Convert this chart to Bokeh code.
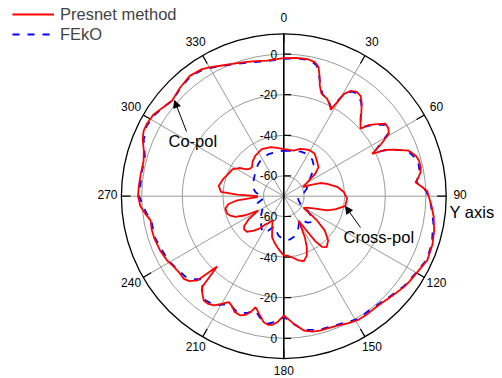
import numpy as np
from bokeh.plotting import figure
from bokeh.models import Range1d, Arrow, NormalHead, Legend, LegendItem
from bokeh.core.properties import value
from bokeh.embed import file_html
from bokeh.resources import INLINE

# ---------------- data (angle in degrees clockwise from top, level in dB) -------------
copol_angle = [0, 5, 10, 13, 15, 16.5, 18, 20, 22, 24, 26.5, 28.5, 29.5, 30.5, 32.5, 35, 37.5, 40,
               43, 45.5, 48.7, 50, 51.5, 54.5, 57, 59.3, 62, 64.4, 65.5, 67, 70, 73, 75, 78, 80, 82,
               84, 86, 88, 90, 94, 98, 103, 108, 114, 120, 124, 127, 133, 137, 141, 145, 149, 153,
               158, 165, 168, 171.5, 175.5, 178, 180, 183, 185, 187, 189, 192, 194.3, 196, 198, 200,
               203, 205, 207.4, 210, 212.6, 215, 217.5, 220, 222, 223.5, 225.8, 228, 230.4, 234, 238,
               241, 246, 252, 256, 259.7, 262.7, 266, 270, 274, 279, 284, 288, 292, 295, 298, 302,
               306, 310.6, 313, 316.5, 322, 327, 330, 334, 338, 343, 348, 353, 357, 360]
copol_presnet = [-2.0, -1.6, -1.5, -2.2, -4.0, -8.0, -12.6, -16.0, -16.8, -17.5, -19.5, -21.5, -17.0,
                 -11.5, -8.5, -7.3, -7.8, -10.3, -14.0, -17.0, -19.7, -15.5, -13.1, -8.5, -8.6, -9.8,
                 -16.0, -21.7, -15.0, -11.2, -4.5, -2.0, -1.2, -1.0, -1.6, -3.0, -4.8, -2.0, 0.7, 1.4,
                 3.0, 4.6, 6.0, 7.0, 7.4, 5.6, 4.8, 4.2, 2.4, 1.5, 1.0, 1.2, 1.1, 0.2, -1.1, -1.4, -1.8,
                 -3.1, -6.9, -9.5, -11.2, -7.8, -6.4, -6.2, -7.1, -11.0, -13.6, -10.5, -8.5, -7.5, -8.0,
                 -10.0, -11.2, -8.8, -6.1, -5.2, -5.2, -7.5, -10.0, -22.3, -10.5, -7.5, -6.1, -6.2,
                 -5.5, -4.4, -3.5, -2.9, -2.9, -3.3, -1.3, 0.8, 1.8, 1.6, 1.3, 1.2, 2.5, 5.0, 6.2, 6.3,
                 5.8, 4.0, 2.4, 3.0, 4.0, 5.2, 4.5, 3.3, 1.5, 0.2, -1.1, -2.0, -2.7, -2.4, -2.0]

copol_feko_angle = [0, 6, 11, 14, 16.5, 18.5, 21, 24, 28, 30.5, 33, 36, 40, 45, 48.5, 51.5, 55, 59,
                    64, 66.5, 70, 75, 80, 84, 88, 93, 100, 108, 114, 120, 127, 133, 141, 149, 158,
                    165, 171.5, 176, 180, 183, 187, 190, 194, 197, 201, 207, 212, 217, 221, 224, 227,
                    230, 235, 241, 252, 260, 263, 270, 280, 286, 292, 297, 302, 308, 311, 316, 322,
                    328, 334, 343, 353, 360]
copol_feko = [-2.3, -1.8, -1.8, -3.5, -8.5, -13.0, -16.5, -17.0, -20.5, -12.0, -8.6, -7.6, -10.5,
              -16.5, -18.5, -13.5, -8.8, -10.0, -20.5, -12.0, -5.0, -1.6, -2.0, -4.3, 0.3, 2.5, 4.8,
              6.6, 7.0, 5.3, 3.9, 2.0, 0.4, 0.6, -1.5, -1.9, -3.4, -7.2, -10.5, -8.2, -6.8, -7.8,
              -12.0, -10.0, -8.0, -10.5, -6.5, -5.8, -8.5, -13.0, -10.0, -7.5, -6.5, -4.8, -3.3,
              -3.6, -1.8, 1.3, 0.9, 1.2, 4.4, 5.9, 5.3, 3.2, 2.2, 3.6, 4.8, 4.0, 1.2, -1.4, -2.9, -2.3]

cross_angle = [0, 6, 12, 19, 25, 30, 36, 43, 50, 54.5, 57, 61, 65, 67, 70, 74, 80, 86, 92, 99, 104,
               108, 112.5, 117, 121, 124, 126, 130, 135, 140, 143, 145, 147, 149, 151, 153, 156, 159,
               163, 167, 172, 176, 180, 184, 187, 191, 196, 201, 205, 209, 213, 217, 221, 226, 230,
               233, 237, 240.7, 243.6, 246.8, 250, 253, 258, 262, 265, 268, 270, 272, 274, 279, 286,
               292, 298, 303, 306, 309, 312.5, 318, 325, 335, 345, 352, 360]
cross_presnet = [-46.8, -47.0, -47.0, -45.4, -44.5, -44.0, -44.1, -46.1, -47.7, -51.0, -54.5, -57.5,
                 -59.5, -56.0, -51.0, -47.8, -43.3, -40.4, -38.8, -39.3, -43.5, -47.5, -54.2, -57.5,
                 -58.6, -54.0, -50.0, -43.6, -39.1, -37.2, -38.8, -43.0, -51.0, -56.0, -52.0, -47.0,
                 -42.0, -38.5, -36.5, -37.5, -39.5, -40.6, -40.8, -43.0, -44.5, -46.5, -49.0, -54.0,
                 -57.0, -55.0, -53.5, -50.0, -47.5, -44.8, -44.5, -45.5, -49.6, -55.5, -48.9, -44.1,
                 -42.0, -40.8, -40.6, -42.5, -47.0, -56.8, -57.0, -47.0, -39.0, -37.5, -39.0, -40.5,
                 -41.5, -44.5, -47.5, -48.5, -48.8, -47.0, -45.6, -44.4, -45.0, -46.0, -46.8]

cross_feko_angle = [0, 8, 15, 21, 28, 38, 45, 49, 55, 62, 72, 80, 87.5, 95, 105, 114, 120, 126.5,
                    132, 138, 145, 150, 157, 165, 172, 176, 182, 188, 197, 203, 208, 214, 220, 225,
                    232, 240, 248, 255, 264, 270, 278, 285, 293, 300, 308, 313, 320, 327, 333, 340,
                    351.6, 360]
cross_feko = [-47.5, -47.5, -47.0, -46.5, -46.3, -47.2, -49.0, -51.0, -54.0, -56.5, -58.1, -60.0,
              -62.1, -63.0, -62.5, -61.2, -57.0, -52.9, -51.0, -52.5, -56.0, -55.0, -52.0, -49.5,
              -48.5, -48.3, -49.0, -50.5, -54.6, -52.0, -49.3, -50.5, -52.5, -53.3, -56.0, -58.0,
              -57.0, -56.5, -60.0, -58.7, -56.0, -54.3, -53.5, -53.0, -52.0, -51.5, -50.0, -49.0,
              -48.3, -48.0, -47.8, -47.5]

radial_ticks = [0, -20, -40, -60]
radial_labels = ["0", "-20", "-40", "-60"]
angle_ticks = [0, 30, 60, 90, 120, 150, 180, 210, 240, 270, 300, 330]
angle_labels = ["0", "30", "60", "90", "120", "150", "180", "210", "240", "270", "300", "330"]
grid_levels = [-60, -40, -20, 0]
series_names = ["Presnet method", "FEkO"]

# ---------------- layout constants ----------------
W, H = 502, 378
K = 2.03              # pixels per dB
CX, CY = 283.3, 195.7  # centre of the polar plot in pixels
R_MIN, R_MAX = -70, 10
FONT = "Liberation Sans"
RED, BLUE = "#ff0000", "#0000ff"


def polar(theta_deg, db):
    t = np.radians(np.asarray(theta_deg, float))
    r = np.asarray(db, float) - R_MIN
    return r * np.sin(t), r * np.cos(t)


def px(x, y):
    return (x - CX) / K, (CY - y) / K


p = figure(width=W, height=H, output_backend="svg", toolbar_location=None,
           x_range=Range1d(-CX / K, (W - CX) / K), y_range=Range1d(-(H - CY) / K, CY / K),
           x_axis_location=None, y_axis_location=None, min_border=0,
           outline_line_color=None, background_fill_color="white", border_fill_color="white")
p.grid.visible = False

rmax = R_MAX - R_MIN
# grid circles
p.circle(x=[0] * len(grid_levels), y=[0] * len(grid_levels),
         radius=[g - R_MIN for g in grid_levels], fill_color=None,
         line_color="#9a9a9a", line_width=1)
# spokes
spk = [a for a in angle_ticks if a not in (0, 180)]
sx, sy = polar(spk, [R_MAX] * len(spk))
p.segment(x0=[0] * len(spk), y0=[0] * len(spk), x1=sx, y1=sy, line_color="#9a9a9a", line_width=1)
# outer circle
p.circle(x=[0], y=[0], radius=[rmax], fill_color=None, line_color="black", line_width=1.3)
# vertical (radial) axis line
p.segment(x0=[0], y0=[-rmax], x1=[0], y1=[rmax], line_color="black", line_width=1.6)
# angular ticks (inward)
tx0, ty0 = polar(angle_ticks, [R_MAX] * len(angle_ticks))
tx1, ty1 = polar(angle_ticks, [R_MAX - 4.5] * len(angle_ticks))
p.segment(x0=tx0, y0=ty0, x1=tx1, y1=ty1, line_color="black", line_width=1.2)
# radial ticks and labels, upper and lower half
rt = [v - R_MIN for v in radial_ticks]
ry = rt + [-v for v in rt]
p.segment(x0=[0] * len(ry), y0=ry, x1=[3.6] * len(ry), y1=ry, line_color="black", line_width=1.2)
p.text(x=[-3.3] * len(ry), y=ry, text=radial_labels + radial_labels,
       text_font=value(FONT), text_font_size=value("12px"), text_color="black",
       text_align="right", text_baseline="middle")
# angle labels (slightly raised, as in the reference)
ax_, ay_ = polar(angle_ticks, [R_MAX + 6.85] * len(angle_ticks))
p.text(x=ax_, y=np.asarray(ay_) + 0.95, text=angle_labels, text_font=value(FONT),
       text_font_size=value("12px"), text_color="black", text_align="center",
       text_baseline="middle")

# ---------------- curves ----------------
bx, by = polar(copol_feko_angle, copol_feko)
r_blue = p.line(bx, by, line_color=BLUE, line_width=1.8, line_dash="7 8")
bx2, by2 = polar(cross_feko_angle, cross_feko)
p.line(bx2, by2, line_color=BLUE, line_width=1.8, line_dash="7 8")
rx, ry_ = polar(copol_angle, copol_presnet)
r_red = p.line(rx, ry_, line_color=RED, line_width=1.8)
rx2, ry2 = polar(cross_angle, cross_presnet)
p.line(rx2, ry2, line_color=RED, line_width=1.8)

# ---------------- annotations ----------------
ann_x, ann_y = zip(px(168, 140), px(343, 236), px(449, 211))
p.text(x=list(ann_x), y=list(ann_y), text=["Co-pol", "Cross-pol", "Y axis"],
       text_font=value(FONT), text_font_size=value("16.5px"), text_color="black",
       text_align="left", text_baseline="middle")

for (xs, ys), (xe, ye) in [((186, 131), (174, 100)), ((360, 227), (345, 206))]:
    x0, y0 = px(xs, ys)
    x1, y1 = px(xe, ye)
    p.add_layout(Arrow(end=NormalHead(size=7, fill_color="black", line_color="black"),
                       x_start=x0, y_start=y0, x_end=x1, y_end=y1,
                       line_color="black", line_width=1))

legend = Legend(items=[LegendItem(label=series_names[0], renderers=[r_red]),
                       LegendItem(label=series_names[1], renderers=[r_blue])],
                location=(12, 334), glyph_width=42, glyph_height=20, label_height=20,
                label_standoff=6, spacing=0, padding=0, margin=0,
                label_text_font=FONT, label_text_font_size="16.5px",
                border_line_color=None, background_fill_alpha=0)
p.add_layout(legend)

open("out.html", "w").write(file_html(p, INLINE))
